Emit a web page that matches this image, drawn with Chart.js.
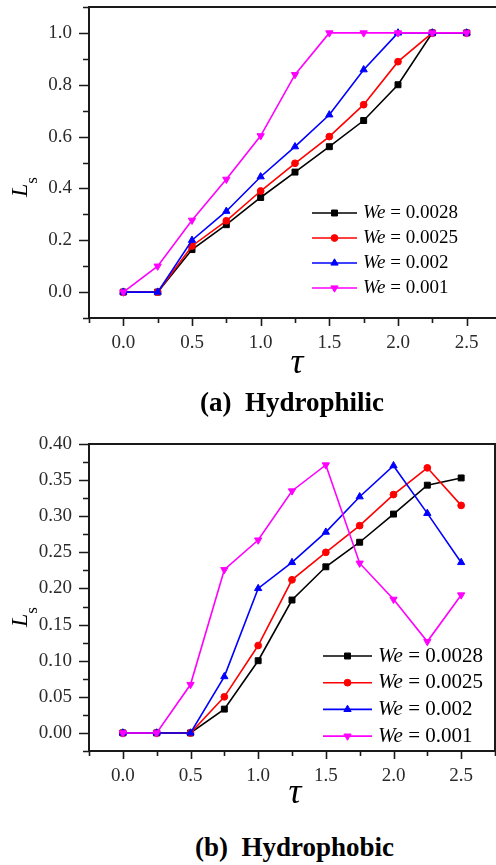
<!DOCTYPE html>
<html><head><meta charset="utf-8">
<script src="https://cdn.jsdelivr.net/npm/chart.js@4.4.1/dist/chart.umd.min.js"></script>
<style>
html,body{margin:0;padding:0;background:#fff;width:496px;height:865px;overflow:hidden;}
#wrap{position:relative;width:496px;height:865px;overflow:hidden;}
canvas{position:absolute;left:0;}
.cap{position:absolute;font-family:'Liberation Serif','Times New Roman',serif;font-weight:bold;font-size:27px;white-space:pre;color:#000;line-height:30px;}
</style></head>
<body><div id="wrap">
<canvas id="c1" width="502" height="390" style="top:0px"></canvas>
<canvas id="c2" width="496" height="395" style="top:430px"></canvas>
<div class="cap" style="left:200px;top:387px">(a)  Hydrophilic</div>
<div class="cap" style="left:195px;top:832px">(b)  Hydrophobic</div>
</div>
<script>
// ---- data ----
const tauValues = [0, 0.25, 0.5, 0.75, 1.0, 1.25, 1.5, 1.75, 2.0, 2.25, 2.5];
const weLabels = ['0.0028', '0.0025', '0.002', '0.001'];

// (a) Hydrophilic
const philicWe0028 = [0, 0, 0.164, 0.26, 0.365, 0.463, 0.561, 0.662, 0.80, 1.0, 1.0];
const philicWe0025 = [0, 0, 0.178, 0.275, 0.39, 0.497, 0.60, 0.723, 0.889, 1.0, 1.0];
const philicWe002  = [0, 0, 0.20, 0.312, 0.445, 0.561, 0.684, 0.858, 1.0, 1.0, 1.0];
const philicWe001  = [0, 0.10, 0.277, 0.435, 0.603, 0.839, 1.0, 1.0, 1.0, 1.0, 1.0];

// (b) Hydrophobic
const phobicWe0028 = [0, 0, 0, 0.033, 0.100, 0.184, 0.230, 0.264, 0.303, 0.343, 0.353];
const phobicWe0025 = [0, 0, 0, 0.050, 0.121, 0.212, 0.250, 0.287, 0.330, 0.367, 0.315];
const phobicWe002  = [0, 0, 0, 0.078, 0.200, 0.236, 0.278, 0.327, 0.370, 0.304, 0.236];
const phobicWe001  = [0, 0, 0.067, 0.226, 0.267, 0.335, 0.371, 0.235, 0.185, 0.1265, 0.191];

// tick definitions
const xTickMin = -0.25, xTickMax = 2.75, xTickStep = 0.25;
const philicYMin = -0.1, philicYMax = 1.1, philicYStep = 0.1;
const phobicYMin = -0.025, phobicYMax = 0.40, phobicYStep = 0.025;

// ---- styles ----
const colors = ['#000000', '#ff0000', '#0000ff', '#ff00ff'];
const markers = [
  {style: 'rect', rot: 0, r: 4.2},
  {style: 'circle', rot: 0, r: 3.4},
  {style: 'triangle', rot: 0, r: 4.2},
  {style: 'triangle', rot: 180, r: 4.2}
];
const SERIF = "'Liberation Serif','Times New Roman',serif";

function stepTicks(min, max, step) {
  const out = [];
  const n = Math.round((max - min) / step);
  for (let i = 0; i <= n; i++) out.push({value: +(min + i * step).toFixed(6)});
  return out;
}

function drawMarker(ctx, m, x, y, color) {
  ctx.save();
  ctx.fillStyle = color; ctx.strokeStyle = color; ctx.lineWidth = 1;
  ctx.beginPath();
  if (m.style === 'rect') {
    const s = m.r * Math.SQRT1_2;
    ctx.rect(x - s, y - s, 2 * s, 2 * s);
  } else if (m.style === 'circle') {
    ctx.arc(x, y, m.r, 0, Math.PI * 2);
  } else {
    const dir = m.rot === 180 ? -1 : 1;
    const r = m.r;
    ctx.moveTo(x, y - dir * r);
    ctx.lineTo(x + r * Math.cos(Math.PI / 6), y + dir * r * 0.5);
    ctx.lineTo(x - r * Math.cos(Math.PI / 6), y + dir * r * 0.5);
    ctx.closePath();
  }
  ctx.fill(); ctx.stroke();
  ctx.restore();
}

const decorPlugin = {
  id: 'decor',
  beforeDatasetsDraw(chart) {
    const {ctx, chartArea: a} = chart;
    const xs = chart.scales.x, ys = chart.scales.y;
    ctx.save();
    ctx.strokeStyle = '#1a1a1a';
    ctx.lineWidth = 2;
    ctx.beginPath();
    ctx.rect(a.left, a.top, a.right - a.left, a.bottom - a.top);
    ctx.stroke();
    ctx.lineWidth = 1.6;
    ctx.beginPath();
    xs.ticks.forEach(t => {
      const px = Math.round(xs.getPixelForValue(t.value)) + 0.5;
      const major = t.label !== '' && t.label != null;
      ctx.moveTo(px, a.bottom); ctx.lineTo(px, a.bottom + (major ? 8 : 5));
    });
    ys.ticks.forEach(t => {
      const py = Math.round(ys.getPixelForValue(t.value)) + 0.5;
      const major = t.label !== '' && t.label != null;
      ctx.moveTo(a.left, py); ctx.lineTo(a.left - (major ? 10 : 6), py);
    });
    ctx.stroke();
    ctx.restore();
  },
  afterDraw(chart, args, o) {
    const {ctx, chartArea: a} = chart;
    ctx.save();
    ctx.fillStyle = '#000';
    // x title
    ctx.font = 'italic 36px ' + SERIF;
    ctx.textAlign = 'center'; ctx.textBaseline = 'alphabetic';
    ctx.fillText('\u03C4', (a.left + a.right) / 2 + o.tauDx, a.bottom + o.tauDy);
    // y title L_s
    ctx.save();
    ctx.translate(o.lsX, a.top + o.lsY);
    ctx.rotate(-Math.PI / 2);
    ctx.textAlign = 'left';
    ctx.font = 'italic 24px ' + SERIF;
    ctx.fillText('L', 0, 0);
    const w = ctx.measureText('L').width;
    ctx.font = '17px ' + SERIF;
    ctx.fillText('s', w + 0, 10);
    ctx.restore();
    // legend
    chart.data.datasets.forEach((ds, i) => {
      const y = a.bottom + o.legY + i * o.legDy;
      const x0 = a.left + o.legX;
      ctx.strokeStyle = ds.borderColor; ctx.lineWidth = 1.6;
      ctx.beginPath(); ctx.moveTo(x0, y); ctx.lineTo(x0 + o.legLen, y); ctx.stroke();
      drawMarker(ctx, markers[i], x0 + o.legLen / 2, y, ds.borderColor);
      ctx.fillStyle = '#000';
      ctx.textBaseline = 'middle'; ctx.textAlign = 'left';
      let tx = x0 + o.legLen + o.legGap;
      ctx.font = 'italic ' + o.legFont + 'px ' + SERIF;
      ctx.fillText('We', tx, y);
      tx += ctx.measureText('We').width;
      ctx.font = o.legFont + 'px ' + SERIF;
      ctx.fillText(' = ' + weLabels[i], tx, y);
    });
    ctx.restore();
  }
};

function makeChart(id, seriesList, yMin, yMax, yStep, yDigits, layout, decor) {
  const canvas = document.getElementById(id);
  const datasets = seriesList.map((vals, i) => ({
    label: 'We = ' + weLabels[i],
    data: tauValues.map((t, j) => ({x: t, y: vals[j]})),
    borderColor: colors[i],
    backgroundColor: colors[i],
    borderWidth: 1.6,
    pointStyle: markers[i].style,
    rotation: markers[i].rot,
    pointRadius: markers[i].r,
    pointBorderWidth: 1,
    pointBackgroundColor: colors[i],
    pointBorderColor: colors[i],
    tension: 0,
    order: 4 - i
  }));
  const labelEvery = yDigits === 1 ? 0.2 : 0.05;
  return new Chart(canvas, {
    type: 'line',
    data: {datasets},
    plugins: [decorPlugin],
    options: {
      responsive: false,
      animation: false,
      devicePixelRatio: 1,
      layout: {autoPadding: false, padding: {left: 0, top: layout.top, right: layout.right, bottom: 0}},
      plugins: {legend: {display: false}, tooltip: {enabled: false}, decor: decor},
      scales: {
        x: {
          type: 'linear', min: xTickMin, max: xTickMax,
          grid: {display: true, drawOnChartArea: false, drawTicks: true, tickLength: 14, tickColor: 'rgba(0,0,0,0)'},
          border: {display: false},
          afterBuildTicks: s => { s.ticks = stepTicks(xTickMin, xTickMax, xTickStep); },
          afterFit: s => { s.height = layout.xHeight; },
          ticks: {
            autoSkip: false, maxRotation: 0, padding: 0, color: '#2a2a2a',
            font: {family: SERIF, size: 19},
            callback: v => {
              const k = Math.round(v / 0.5);
              return (Math.abs(v - k * 0.5) < 1e-6 && v >= -1e-6 && v <= 2.5 + 1e-6) ? (k * 0.5).toFixed(1) : '';
            }
          }
        },
        y: {
          type: 'linear', min: yMin, max: yMax,
          grid: {display: true, drawOnChartArea: false, drawTicks: true, tickLength: 17, tickColor: 'rgba(0,0,0,0)'},
          border: {display: false},
          afterBuildTicks: s => { s.ticks = stepTicks(yMin, yMax, yStep); },
          afterFit: s => { s.width = 89; },
          ticks: {
            autoSkip: false, padding: 0, color: '#2a2a2a',
            font: {family: SERIF, size: 19, lineHeight: 0.5},
            callback: v => {
              const k = Math.round(v / labelEvery);
              return (Math.abs(v - k * labelEvery) < 1e-6 && v >= -1e-6) ? (k * labelEvery).toFixed(yDigits) : '';
            }
          }
        }
      }
    }
  });
}

makeChart('c1', [philicWe0028, philicWe0025, philicWe002, philicWe001],
  philicYMin, philicYMax, philicYStep, 1,
  {top: 7, right: 1, xHeight: 390 - 318},
  {tauDx: 2, tauDy: 55, lsX: 27, lsY: 190, legX: 223, legY: -105, legDy: 25, legLen: 45, legGap: 6, legFont: 19});

makeChart('c2', [phobicWe0028, phobicWe0025, phobicWe002, phobicWe001],
  phobicYMin, phobicYMax, phobicYStep, 2,
  {top: 14, right: 1, xHeight: 395 - 321},
  {tauDx: 3, tauDy: 52, lsX: 27, lsY: 183, legX: 234, legY: -95, legDy: 26.7, legLen: 49, legGap: 6, legFont: 21});
</script>
</body></html>
